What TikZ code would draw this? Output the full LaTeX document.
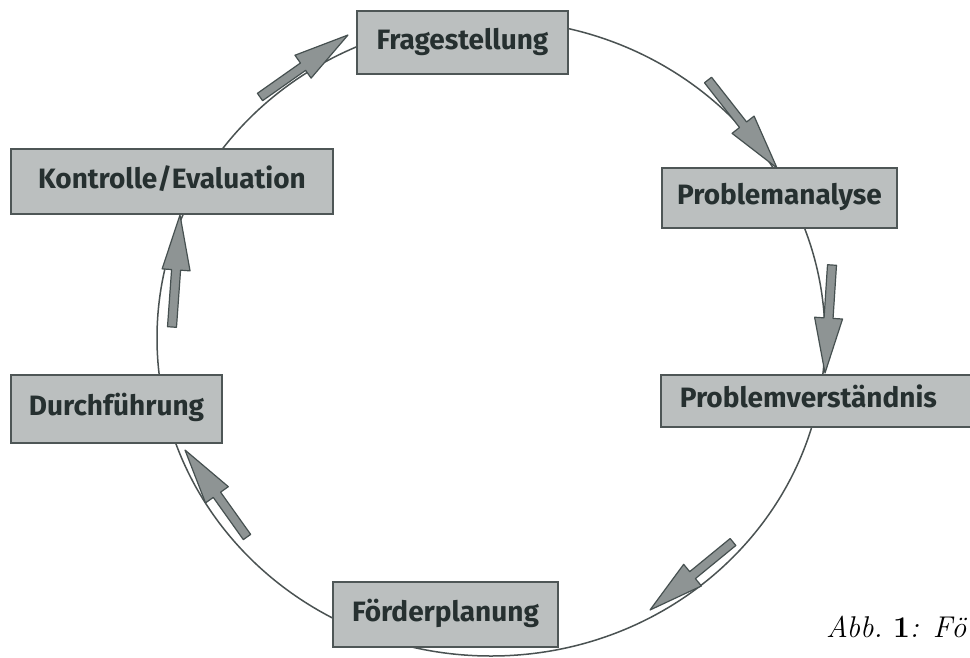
\documentclass[tikz,border=0pt]{standalone}
\usepackage{fontspec}
\newfontfamily\boxfont{Fira Sans}
\usetikzlibrary{calc}
\definecolor{boxfill}{HTML}{BBBFBF}
\definecolor{boxline}{HTML}{4E5656}
\definecolor{txt}{HTML}{263030}
\definecolor{arrfill}{HTML}{8E9494}
\definecolor{arrline}{HTML}{465050}
\definecolor{ring}{HTML}{4A5252}
\tikzset{
  stage/.style={draw=boxline, line width=1.6pt, fill=boxfill, text=txt,
    font=\boxfont\bfseries\fontsize{28}{32}\selectfont, inner sep=0pt,
    text height=20pt, text depth=7pt},
  barrow/.style={draw=arrline, line width=1.2pt, fill=arrfill, line join=round},
  ringline/.style={draw=ring, line width=1.5pt},
}
\newcommand\blockarrow[2]{%
  \coordinate (ba-b) at ($(#2)!55pt!(#1)$);
  \draw[barrow] ($(#1)!4.5pt!90:(#2)$) -- ($(ba-b)!4.5pt!90:(#2)$) -- ($(ba-b)!14pt!90:(#2)$)
    -- (#2) -- ($(ba-b)!14pt!-90:(#2)$) -- ($(ba-b)!4.5pt!-90:(#2)$) -- ($(#1)!4.5pt!-90:(#2)$) -- cycle;
}
\begin{document}
\begin{tikzpicture}[x=1pt,y=-1pt]
\useasboundingbox (0,0) rectangle (970,657);
\fill[white] (0,0) rectangle (970,657);
% cycle ring
\draw[ringline] (491,338) ellipse [x radius=334, y radius=318];
% stages
\node[stage, minimum width=211pt, minimum height=63pt] (frage) at (462.5,42.5) {Fragestellung};
\node[stage, minimum width=235pt, minimum height=60pt] (analyse) at (779.5,198) {Problemanalyse};
\node[stage, anchor=west, minimum width=330pt, minimum height=52pt, text width=292pt, align=left, inner xsep=19pt] (verst) at (660,401) {Problemverständnis};
\node[stage, minimum width=225pt, minimum height=65pt] (foerd) at (445.5,614.5) {Förderplanung};
\node[stage, minimum width=211pt, minimum height=68pt] (durch) at (116.5,409) {Durchführung};
\node[stage, minimum width=322pt, minimum height=65pt] (kontr) at (172,181.5) {Kontrolle/Evaluation};
% arrows along the ring
\coordinate (a1t) at (708,80);  \coordinate (a1h) at (777,168);
\coordinate (a2t) at (832,265); \coordinate (a2h) at (825,373);
\coordinate (a3t) at (733,542); \coordinate (a3h) at (650,610);
\coordinate (a4t) at (247,537); \coordinate (a4h) at (185,450);
\coordinate (a5t) at (172,327); \coordinate (a5h) at (180,215);
\coordinate (a6t) at (260,97);  \coordinate (a6h) at (348,35);
\blockarrow{a1t}{a1h}
\blockarrow{a2t}{a2h}
\blockarrow{a3t}{a3h}
\blockarrow{a4t}{a4h}
\blockarrow{a5t}{a5h}
\blockarrow{a6t}{a6h}
% caption
\node[anchor=base west, inner sep=0pt, font=\fontsize{30}{34}\selectfont\itshape] (cap) at (826,637) {Abb.\ \textbf{\textup{1}}: Fö};
\end{tikzpicture}
\end{document}
